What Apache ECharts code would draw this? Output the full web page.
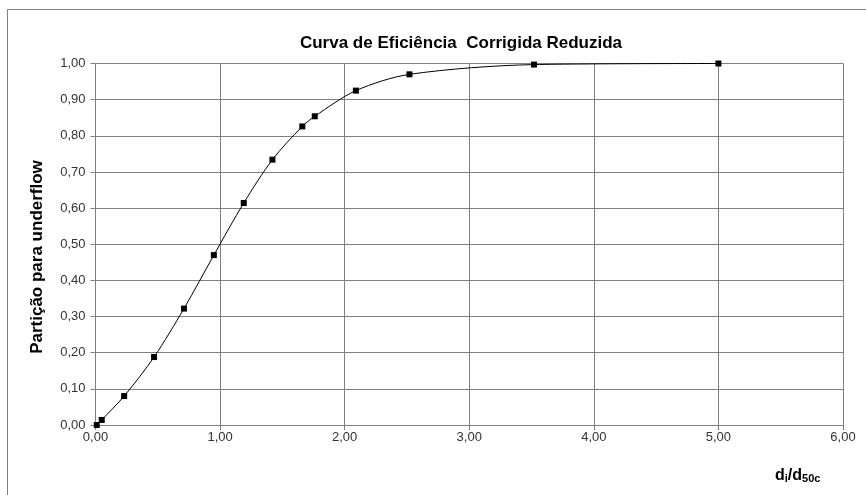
<!DOCTYPE html>
<html><head><meta charset="utf-8">
<script src="https://cdn.jsdelivr.net/npm/echarts@6/dist/echarts.min.js"></script>
<style>html,body{margin:0;padding:0;background:#fff}#c{width:866px;height:495px}</style>
</head><body><div id="c"></div>
<script>
const titleText = 'Curva de Eficiência  Corrigida Reduzida';
const yAxisTitle = 'Partição para underflow';
const xValues = [0.01, 0.05, 0.23, 0.47, 0.71, 0.95, 1.19, 1.42, 1.66, 1.76, 2.09, 2.52, 3.52, 5.00];
const yValues = [0.000, 0.014, 0.080, 0.188, 0.322, 0.470, 0.614, 0.734, 0.826, 0.854, 0.925, 0.970, 0.997, 1.000];

const fmt = v => v.toFixed(2).replace('.', ',');
const chart = echarts.init(document.getElementById('c'), null, {renderer: 'canvas'});
const font = '"Liberation Sans", Arial, sans-serif';
chart.setOption({
  animation: false,
  backgroundColor: '#fff',
  title: {
    text: titleText, left: 456, top: 30, textAlign: 'center',
    textStyle: {fontFamily: font, fontSize: 17, fontWeight: 'bold', color: '#000'}
  },
  graphic: [{
    type: 'rect', shape: {x: 7.5, y: 9.5, width: 900, height: 600},
    style: {fill: 'none', stroke: '#808080', lineWidth: 1}, silent: true, z: -1
  }, {
    type: 'text', x: 37, y: 257, rotation: Math.PI / 2,
    style: {
      text: yAxisTitle, align: 'center', verticalAlign: 'middle',
      fontFamily: font, fontSize: 17, fontWeight: 'bold', fill: '#000'
    }
  }, {
    type: 'text', left: 775, top: 468,
    style: {
      text: '{b|d}{s|i}{b|/d}{s|50c}',
      rich: {
        b: {fontFamily: font, fontSize: 16, fontWeight: 'bold', fill: '#000', verticalAlign: 'bottom'},
        s: {fontFamily: font, fontSize: 11, fontWeight: 'bold', fill: '#000', padding: [6, 0, 0, 0]}
      }
    }
  }],
  grid: {left: 95.5, right: 23, top: 63.5, bottom: 70, containLabel: false},
  xAxis: {
    type: 'value', min: 0, max: 6, interval: 1,
    axisLine: {show: true, lineStyle: {color: '#808080'}},
    axisTick: {show: true, length: 5, lineStyle: {color: '#808080'}},
    splitLine: {show: true, lineStyle: {color: '#808080', width: 1}},
    axisLabel: {formatter: fmt, color: '#333', fontFamily: font, fontSize: 13, margin: 6}
  },
  yAxis: {
    type: 'value', min: 0, max: 1, interval: 0.1,
    axisLine: {show: true, lineStyle: {color: '#808080'}},
    axisTick: {show: true, length: 5, lineStyle: {color: '#808080'}},
    splitLine: {show: true, lineStyle: {color: '#808080', width: 1}},
    axisLabel: {formatter: fmt, color: '#333', fontFamily: font, fontSize: 13, margin: 10}
  },
  series: [{
    type: 'line', smooth: 0.3,
    data: xValues.map((x, i) => [x, yValues[i]]),
    symbol: 'rect', symbolSize: 6, showAllSymbol: true,
    lineStyle: {color: '#000', width: 1},
    itemStyle: {color: '#000'}
  }]
});
</script></body></html>
